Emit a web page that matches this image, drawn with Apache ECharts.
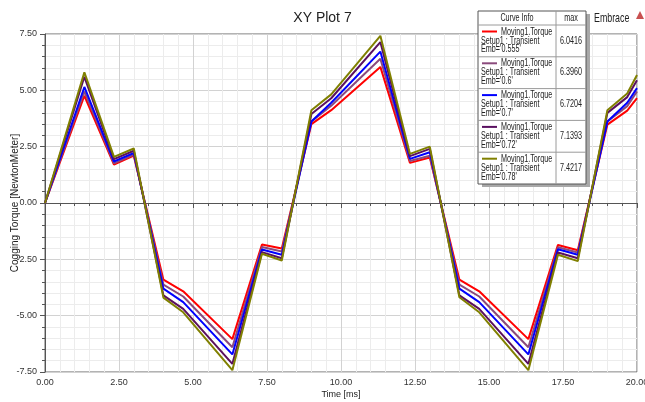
<!DOCTYPE html>
<html><head><meta charset="utf-8">
<script src="https://cdn.jsdelivr.net/npm/echarts@6/dist/echarts.min.js"></script>
<style>html,body{margin:0;padding:0;background:#fff}#c{width:645px;height:402px}</style>
</head><body><div id="c"></div>
<script>
const times = [0, 1.33, 2.33, 3.0, 4.0, 4.67, 6.33, 7.33, 8.0, 9.0, 9.67, 11.33, 12.33, 13.0, 14.0, 14.67, 16.33, 17.33, 18.0, 19.0, 19.67, 20.0];
const emb055 = [0, 4.76, 1.70, 2.10, -3.40, -3.92, -6.04, -1.84, -2.02, 3.50, 4.12, 6.04, 1.78, 2.02, -3.40, -3.92, -6.04, -1.86, -2.10, 3.48, 4.10, 4.65];
const emb060 = [0, 4.95, 1.76, 2.15, -3.62, -4.15, -6.40, -1.95, -2.15, 3.62, 4.32, 6.40, 1.86, 2.10, -3.62, -4.15, -6.40, -1.96, -2.20, 3.62, 4.30, 4.95];
const emb070 = [0, 5.15, 1.84, 2.22, -3.80, -4.40, -6.72, -2.06, -2.30, 3.62, 4.45, 6.72, 1.96, 2.25, -3.80, -4.40, -6.72, -2.05, -2.30, 3.62, 4.45, 5.10];
const emb072 = [0, 5.60, 1.95, 2.32, -4.10, -4.70, -7.14, -2.18, -2.45, 3.95, 4.65, 7.14, 2.08, 2.40, -4.10, -4.70, -7.14, -2.20, -2.45, 4.00, 4.70, 5.45];
const emb078 = [0, 5.80, 2.05, 2.42, -4.20, -4.85, -7.42, -2.25, -2.55, 4.12, 4.82, 7.42, 2.18, 2.50, -4.18, -4.85, -7.42, -2.30, -2.58, 4.12, 4.86, 5.68];
const embNames = ["0.555", "0.6", "0.7", "0.72", "0.78"];
const maxVals = ["6.0416", "6.3960", "6.7204", "7.1393", "7.4217"];
const seriesData = [emb055, emb060, emb070, emb072, emb078];
const colors = ["#ff0000", "#8a4a7c", "#0000ff", "#5a1060", "#808000"];

const FONT = '"Liberation Sans",Arial,sans-serif';
const SX = 0.72;

const chart = echarts.init(document.getElementById('c'));

function txt(s, x, y, opts) {
  opts = opts || {};
  return {type:'text', z:103, x:x, y:y, scaleX:opts.sx || SX,
    style:{text:s, x:0, y:0, align:opts.align || 'left', verticalAlign:'middle',
      font:(opts.size || 10) + 'px ' + FONT, fill:'#222'}};
}

const graphic = [];
const L = 478, R = 586, T = 11, HB = 25, RH = 31.8, CD = 556;
const B = HB + RH * 5;
graphic.push({type:'rect', z:100, shape:{x:L+4, y:T+3, width:R-L, height:B-T}, style:{fill:'#a8a8a8'}});
graphic.push({type:'rect', z:101, shape:{x:L, y:T, width:R-L, height:B-T}, style:{fill:'#fff', stroke:'#555', lineWidth:1}});
graphic.push({type:'line', z:102, shape:{x1:CD, y1:T, x2:CD, y2:B}, style:{stroke:'#9a9a9a', lineWidth:1}});
graphic.push({type:'line', z:102, shape:{x1:L, y1:HB, x2:R, y2:HB}, style:{stroke:'#9a9a9a', lineWidth:1}});
graphic.push(txt('Curve Info', (L+CD)/2, (T+HB)/2, {align:'center'}));
graphic.push(txt('max', (CD+R)/2, (T+HB)/2, {align:'center'}));
embNames.forEach((n, i) => {
  const top = HB + RH * i;
  if (i > 0) graphic.push({type:'line', z:102, shape:{x1:L, y1:top, x2:R, y2:top}, style:{stroke:'#9a9a9a', lineWidth:1}});
  graphic.push({type:'line', z:103, shape:{x1:482, y1:top+6.5, x2:497, y2:top+6.5}, style:{stroke:colors[i], lineWidth:2}});
  graphic.push(txt('Moving1.Torque', 501, top+6.8));
  graphic.push(txt('Setup1 : Transient', 481, top+15.8));
  graphic.push(txt("Emb='" + n + "'", 481, top+24.6));
  graphic.push(txt(maxVals[i], (CD+R)/2, top+15.8, {align:'center'}));
});
graphic.push(txt('Embrace', 594, 18, {size:13, sx:0.68}));
graphic.push({type:'polygon', z:103, shape:{points:[[640,11],[636,19],[644,19]]}, style:{fill:'#c85050'}});

chart.setOption({
  animation: false,
  title: {text:'XY Plot 7', left:'center', top:6, textStyle:{fontFamily:FONT, fontSize:14, fontWeight:'normal', color:'#222'}},
  grid: {left:45, right:8, top:34, bottom:30, outerBoundsMode:'none', containLabel:false,
    show:true, borderColor:'#666', borderWidth:1, backgroundColor:'transparent'},
  xAxis: {
    type:'value', min:0, max:20, interval:2.5,
    name:'Time [ms]', nameLocation:'middle', nameGap:18, nameMoveOverlap:false,
    nameTextStyle:{fontFamily:FONT, fontSize:9, color:'#222'},
    axisLine:{show:true, lineStyle:{color:'#555'}},
    axisTick:{show:true, length:5, lineStyle:{color:'#555'}},
    minorTick:{show:true, splitNumber:5, length:3, lineStyle:{color:'#555'}},
    axisLabel:{formatter:v=>v.toFixed(2), fontFamily:FONT, fontSize:9, color:'#333', margin:6},
    splitLine:{show:true, lineStyle:{color:'#d2d2d2'}},
    minorSplitLine:{show:true, lineStyle:{color:'#ececec'}}
  },
  yAxis: {
    type:'value', min:-7.5, max:7.5, interval:2.5,
    name:'Cogging Torque [NewtonMeter]', nameLocation:'middle', nameGap:25, nameMoveOverlap:false,
    nameTextStyle:{fontFamily:FONT, fontSize:10, color:'#222'},
    axisLine:{show:true, lineStyle:{color:'#555'}},
    axisTick:{show:true, length:5, lineStyle:{color:'#555'}},
    minorTick:{show:true, splitNumber:5, length:3, lineStyle:{color:'#555'}},
    axisLabel:{formatter:v=>v.toFixed(2), fontFamily:FONT, fontSize:9, color:'#333', margin:8},
    splitLine:{show:true, lineStyle:{color:'#d2d2d2'}},
    minorSplitLine:{show:true, lineStyle:{color:'#ececec'}}
  },
  series: seriesData.map((d, i) => ({
    type:'line', name:"Emb='" + embNames[i] + "'",
    data: times.map((t, k) => [t, d[k]]),
    showSymbol:false, symbol:'none',
    lineStyle:{color:colors[i], width:2},
    z: 2 + i
  })),
  graphic: graphic
});
</script></body></html>
